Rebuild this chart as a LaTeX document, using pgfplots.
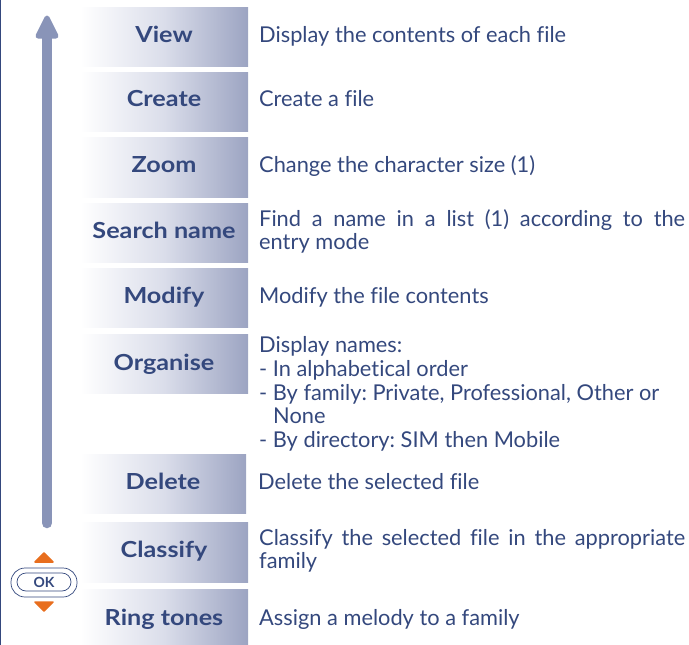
\documentclass[border=0pt]{standalone}
\usepackage{fontspec}
\setmainfont[Ligatures=NoCommon]{Lato}
\newfontfamily\hdfont[Ligatures=NoCommon,FakeStretch=1.14]{Lato}
\usepackage{pgfplots}
\pgfplotsset{compat=1.18}
\frenchspacing
\definecolor{ink}{RGB}{52,72,125}
\definecolor{arrowc}{RGB}{137,148,184}
\definecolor{barR}{RGB}{156,164,194}
\definecolor{barM}{RGB}{218,221,234}
\definecolor{okor}{RGB}{232,110,30}
\newcommand{\hd}[3]{\node[font=\hdfont\bfseries\fontsize{22.1}{24}\selectfont,text=ink,anchor=base] at (axis cs:#1,#2) {#3};}
\newcommand{\tx}[3]{\node[font=\fontsize{21.8}{24}\selectfont,text=ink,anchor=base west,inner sep=0pt] at (axis cs:#1,#2) {#3};}
\newcommand{\jt}[2]{\node[font=\fontsize{21.8}{24}\selectfont,text=ink,anchor=base west,inner sep=0pt] at (axis cs:259,#1) {\makebox[426pt][s]{#2}};}
\newcommand{\gbar}[3]{%
 \addplot[draw=none,left color=white,right color=barM,forget plot] coordinates {(80,#1)(165,#1)(165,#2)(80,#2)} --cycle;
 \addplot[draw=none,left color=barM,right color=barR,forget plot] coordinates {(164.5,#1)(#3,#1)(#3,#2)(164.5,#2)} --cycle;}
\begin{document}
\begin{tikzpicture}
\begin{axis}[scale only axis,width=689pt,height=645pt,xmin=0,xmax=689,ymin=0,ymax=645,y dir=reverse,hide axis,clip=false]
\path[use as bounding box] (axis cs:0,0) rectangle (axis cs:689,645);
\gbar{7}{66}{248}
\gbar{72}{131}{248}
\gbar{137}{197}{248}
\gbar{203}{262}{248}
\gbar{268}{327}{248}
\gbar{334}{393}{248}
\gbar{454}{513}{246}
\gbar{522}{582}{248}
\gbar{589}{645}{248}
% left rule
\addplot[draw=ink,line width=1.2pt,forget plot] coordinates {(0.6,0)(0.6,645)};
% arrow
\addplot[draw=arrowc,line width=10.5pt,line cap=round,forget plot] coordinates {(47,523)(47,34)};
\addplot[fill=arrowc,draw=arrowc,line width=5pt,line join=round,forget plot] coordinates {(47,18)(38,36)(56,36)} --cycle;
% OK button
\addplot[fill=okor,draw=okor,line width=1.5pt,line join=round,forget plot] coordinates {(44,553)(35,562)(53,562)} --cycle;
\addplot[fill=okor,draw=okor,line width=1.5pt,line join=round,forget plot] coordinates {(44,611)(35,602)(53,602)} --cycle;
\draw[ink,line width=0.7pt,rounded corners=14pt] (axis cs:11,568) rectangle (axis cs:77,597);
\draw[ink,line width=0.7pt,rounded corners=9pt] (axis cs:17,573) rectangle (axis cs:71,591);
\node[font=\bfseries\fontsize{14}{16}\selectfont,text=ink] at (axis cs:44,582.5) {OK};
% headers
\hd{164}{42}{View}
\hd{164}{106}{Create}
\hd{164}{172}{Zoom}
\hd{164}{238}{Search name}
\hd{164}{303}{Modify}
\hd{164}{370}{Organise}
\hd{163}{489}{Delete}
\hd{164}{557}{Classify}
\hd{164}{625}{Ring tones}
% text
\tx{259}{42}{Display the contents of each file}
\tx{259}{106}{Create a file}
\tx{259}{172}{Change the character size (1)}
\jt{226}{Find a name in a list (1) according to the}
\tx{259}{249}{entry mode}
\tx{259}{303}{Modify the file contents}
\tx{259}{352}{Display names:}
\tx{259}{376}{- In alphabetical order}
\tx{259}{400}{- By family: Private, Professional, Other or}
\tx{273}{423}{None}
\tx{259}{447}{- By directory: SIM then Mobile}
\tx{258}{489}{Delete the selected file}
\jt{545}{Classify the selected file in the appropriate}
\tx{259}{568}{family}
\tx{259}{625}{Assign a melody to a family}
\end{axis}
\end{tikzpicture}
\end{document}
